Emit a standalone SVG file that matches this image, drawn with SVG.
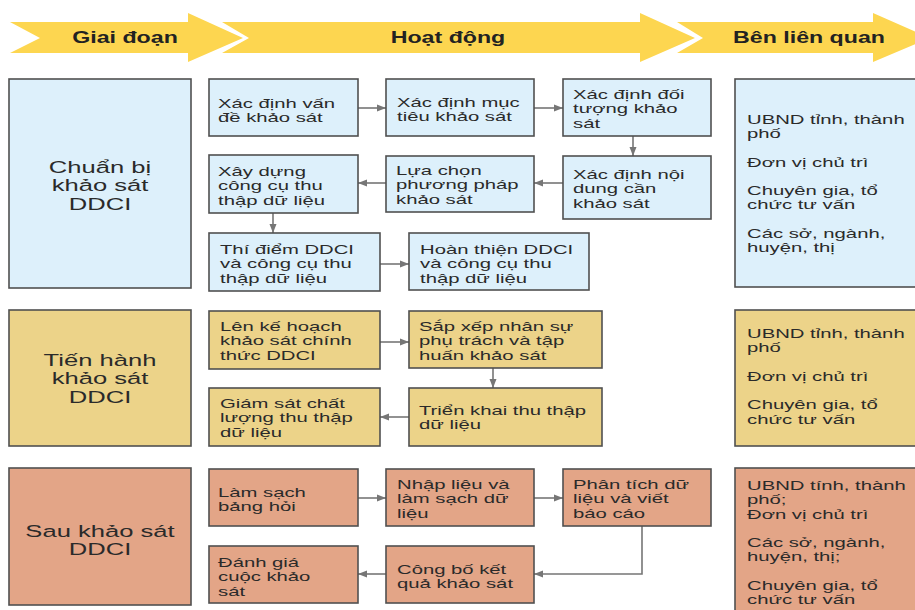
<svg xmlns="http://www.w3.org/2000/svg" width="915" height="610" viewBox="0 0 915 610">
<defs>
<style>
.hdr{fill:#FDD650}
.ht{font-family:"Liberation Sans",Arial,sans-serif;font-size:16px;font-weight:bold;fill:#222;text-anchor:middle}
.box{stroke:#505050;stroke-width:1.6}
.b1{fill:#DDF0FB}
.b2{fill:#ECD389}
.b3{fill:#E3A587}
.t{font-family:"Liberation Sans",Arial,sans-serif;font-size:13px;fill:#2a2a2a}
.st{font-family:"Liberation Sans",Arial,sans-serif;font-size:16.5px;fill:#2a2a2a;text-anchor:middle}
.c{fill:none;stroke:#767676;stroke-width:1.6}
</style>
<marker id="ah" markerUnits="userSpaceOnUse" markerWidth="9" markerHeight="8" refX="9" refY="4" orient="auto">
<path d="M0,0.5 L9,4 L0,7.5 z" fill="#767676"/>
</marker>
</defs>
<rect width="915" height="610" fill="#fff"/>

<g id="header">
<polygon class="hdr" points="10,22 188,22 188,13 243,38 188,62 188,53 10,53 40,38"/>
<polygon class="hdr" points="222,22 640,22 640,13 695,38 640,62 640,53 222,53 249,38"/>
<polygon class="hdr" points="677,22 873,22 873,13 930,38 873,62 873,53 677,53 703,38"/>
<text class="ht" transform="translate(125,43) scale(1.45,1)">Giai đoạn</text>
<text class="ht" transform="translate(448,43) scale(1.45,1)">Hoạt động</text>
<text class="ht" transform="translate(809,43) scale(1.45,1)">Bên liên quan</text>
</g>

<g id="connectors">
<line class="c" x1="358" y1="108" x2="386" y2="108" marker-end="url(#ah)"/>
<line class="c" x1="534" y1="108" x2="563" y2="108" marker-end="url(#ah)"/>
<line class="c" x1="633" y1="136" x2="633" y2="156" marker-end="url(#ah)"/>
<line class="c" x1="563" y1="183" x2="534" y2="183" marker-end="url(#ah)"/>
<line class="c" x1="386" y1="183" x2="358" y2="183" marker-end="url(#ah)"/>
<line class="c" x1="273" y1="213" x2="273" y2="233" marker-end="url(#ah)"/>
<line class="c" x1="380" y1="264" x2="409" y2="264" marker-end="url(#ah)"/>
<line class="c" x1="380" y1="342" x2="409" y2="342" marker-end="url(#ah)"/>
<line class="c" x1="493" y1="368" x2="493" y2="388" marker-end="url(#ah)"/>
<line class="c" x1="409" y1="417" x2="380" y2="417" marker-end="url(#ah)"/>
<line class="c" x1="358" y1="498" x2="386" y2="498" marker-end="url(#ah)"/>
<line class="c" x1="534" y1="498" x2="563" y2="498" marker-end="url(#ah)"/>
<polyline class="c" points="642,526 642,574 534,574" marker-end="url(#ah)"/>
<line class="c" x1="386" y1="574" x2="358" y2="574" marker-end="url(#ah)"/>
</g>

<g id="stage1">
<rect class="box b1" x="9" y="79" width="182" height="209"/>
<text class="st" transform="translate(100,173) scale(1.55,1)"><tspan x="0">Chuẩn bị</tspan><tspan x="0" dy="18.5">khảo sát</tspan><tspan x="0" dy="18.5">DDCI</tspan></text>
</g>
<g id="a1">
<rect class="box b1" x="209" y="79" width="149" height="57"/>
<text class="t" transform="translate(218,108) scale(1.56,1)"><tspan x="0">Xác định vấn</tspan><tspan x="0" dy="14.5">đề khảo sát</tspan></text>
</g>
<g id="a2">
<rect class="box b1" x="386" y="79" width="148" height="57"/>
<text class="t" transform="translate(397,107) scale(1.56,1)"><tspan x="0">Xác định mục</tspan><tspan x="0" dy="14.5">tiêu khảo sát</tspan></text>
</g>
<g id="a3">
<rect class="box b1" x="563" y="79" width="148" height="57"/>
<text class="t" transform="translate(573,99) scale(1.56,1)"><tspan x="0">Xác định đối</tspan><tspan x="0" dy="14.5">tượng khảo</tspan><tspan x="0" dy="14.5">sát</tspan></text>
</g>
<g id="a4">
<rect class="box b1" x="563" y="156" width="148" height="63"/>
<text class="t" transform="translate(573,179) scale(1.56,1)"><tspan x="0">Xác định nội</tspan><tspan x="0" dy="14.5">dung cần</tspan><tspan x="0" dy="14.5">khảo sát</tspan></text>
</g>
<g id="a5">
<rect class="box b1" x="386" y="156" width="148" height="56"/>
<text class="t" transform="translate(396,175) scale(1.56,1)"><tspan x="0">Lựa chọn</tspan><tspan x="0" dy="14.5">phương pháp</tspan><tspan x="0" dy="14.5">khảo sát</tspan></text>
</g>
<g id="a6">
<rect class="box b1" x="209" y="155" width="149" height="58"/>
<text class="t" transform="translate(218,176) scale(1.56,1)"><tspan x="0">Xây dựng</tspan><tspan x="0" dy="14.5">công cụ thu</tspan><tspan x="0" dy="14.5">thập dữ liệu</tspan></text>
</g>
<g id="a7">
<rect class="box b1" x="209" y="233" width="171" height="58"/>
<text class="t" transform="translate(220,254) scale(1.56,1)"><tspan x="0">Thí điểm DDCI</tspan><tspan x="0" dy="14.5">và công cụ thu</tspan><tspan x="0" dy="14.5">thập dữ liệu</tspan></text>
</g>
<g id="a8">
<rect class="box b1" x="409" y="233" width="180" height="57"/>
<text class="t" transform="translate(420,254) scale(1.56,1)"><tspan x="0">Hoàn thiện DDCI</tspan><tspan x="0" dy="14.5">và công cụ thu</tspan><tspan x="0" dy="14.5">thập dữ liệu</tspan></text>
</g>
<g id="s1">
<rect class="box b1" x="735" y="79" width="200" height="208"/>
<text class="t" transform="translate(747,124) scale(1.56,1)"><tspan x="0">UBND tỉnh, thành</tspan><tspan x="0" dy="14.5">phố</tspan><tspan x="0" dy="28.5">Đơn vị chủ trì</tspan><tspan x="0" dy="28">Chuyên gia, tổ</tspan><tspan x="0" dy="14.5">chức tư vấn</tspan><tspan x="0" dy="28.5">Các sở, ngành,</tspan><tspan x="0" dy="14.5">huyện, thị</tspan></text>
</g>

<g id="stage2">
<rect class="box b2" x="9" y="310" width="182" height="136"/>
<text class="st" transform="translate(100,366) scale(1.55,1)"><tspan x="0">Tiến hành</tspan><tspan x="0" dy="18.5">khảo sát</tspan><tspan x="0" dy="18.5">DDCI</tspan></text>
</g>
<g id="b1">
<rect class="box b2" x="209" y="311" width="171" height="58"/>
<text class="t" transform="translate(220,331) scale(1.56,1)"><tspan x="0">Lên kế hoạch</tspan><tspan x="0" dy="14.5">khảo sát chính</tspan><tspan x="0" dy="14.5">thức DDCI</tspan></text>
</g>
<g id="b2">
<rect class="box b2" x="409" y="311" width="193" height="57"/>
<text class="t" transform="translate(419,331) scale(1.56,1)"><tspan x="0">Sắp xếp nhân sự</tspan><tspan x="0" dy="14.5">phụ trách và tập</tspan><tspan x="0" dy="14.5">huấn khảo sát</tspan></text>
</g>
<g id="b3">
<rect class="box b2" x="409" y="388" width="193" height="58"/>
<text class="t" transform="translate(419,415) scale(1.56,1)"><tspan x="0">Triển khai thu thập</tspan><tspan x="0" dy="14.5">dữ liệu</tspan></text>
</g>
<g id="b4">
<rect class="box b2" x="209" y="388" width="171" height="58"/>
<text class="t" transform="translate(220,408) scale(1.56,1)"><tspan x="0">Giám sát chất</tspan><tspan x="0" dy="14.5">lượng thu thập</tspan><tspan x="0" dy="14.5">dữ liệu</tspan></text>
</g>
<g id="s2">
<rect class="box b2" x="735" y="310" width="200" height="136"/>
<text class="t" transform="translate(747,338) scale(1.56,1)"><tspan x="0">UBND tỉnh, thành</tspan><tspan x="0" dy="14.5">phố</tspan><tspan x="0" dy="28.5">Đơn vị chủ trì</tspan><tspan x="0" dy="28.5">Chuyên gia, tổ</tspan><tspan x="0" dy="14.5">chức tư vấn</tspan></text>
</g>

<g id="stage3">
<rect class="box b3" x="9" y="468" width="182" height="137"/>
<text class="st" transform="translate(100,537) scale(1.55,1)"><tspan x="0">Sau khảo sát</tspan><tspan x="0" dy="18.5">DDCI</tspan></text>
</g>
<g id="c1">
<rect class="box b3" x="209" y="469" width="149" height="57"/>
<text class="t" transform="translate(218,497) scale(1.56,1)"><tspan x="0">Làm sạch</tspan><tspan x="0" dy="14.5">bảng hỏi</tspan></text>
</g>
<g id="c2">
<rect class="box b3" x="386" y="469" width="148" height="57"/>
<text class="t" transform="translate(397,489) scale(1.56,1)"><tspan x="0">Nhập liệu và</tspan><tspan x="0" dy="14.5">làm sạch dữ</tspan><tspan x="0" dy="14.5">liệu</tspan></text>
</g>
<g id="c3">
<rect class="box b3" x="563" y="469" width="148" height="57"/>
<text class="t" transform="translate(573,489) scale(1.56,1)"><tspan x="0">Phân tích dữ</tspan><tspan x="0" dy="14.5">liệu và viết</tspan><tspan x="0" dy="14.5">báo cáo</tspan></text>
</g>
<g id="c4">
<rect class="box b3" x="386" y="546" width="148" height="57"/>
<text class="t" transform="translate(397,574) scale(1.56,1)"><tspan x="0">Công bố kết</tspan><tspan x="0" dy="14.5">quả khảo sát</tspan></text>
</g>
<g id="c5">
<rect class="box b3" x="209" y="546" width="149" height="57"/>
<text class="t" transform="translate(218,567) scale(1.56,1)"><tspan x="0">Đánh giá</tspan><tspan x="0" dy="14.5">cuộc khảo</tspan><tspan x="0" dy="14.5">sát</tspan></text>
</g>
<g id="s3">
<rect class="box b3" x="735" y="468" width="200" height="160"/>
<text class="t" transform="translate(747,490) scale(1.56,1)"><tspan x="0">UBND tính, thành</tspan><tspan x="0" dy="14.5">phố;</tspan><tspan x="0" dy="14.5">Đơn vị chủ trì</tspan><tspan x="0" dy="28">Các sở, ngành,</tspan><tspan x="0" dy="14.5">huyện, thị;</tspan><tspan x="0" dy="28.5">Chuyên gia, tổ</tspan><tspan x="0" dy="14.5">chức  tư vấn</tspan></text>
</g>
</svg>
